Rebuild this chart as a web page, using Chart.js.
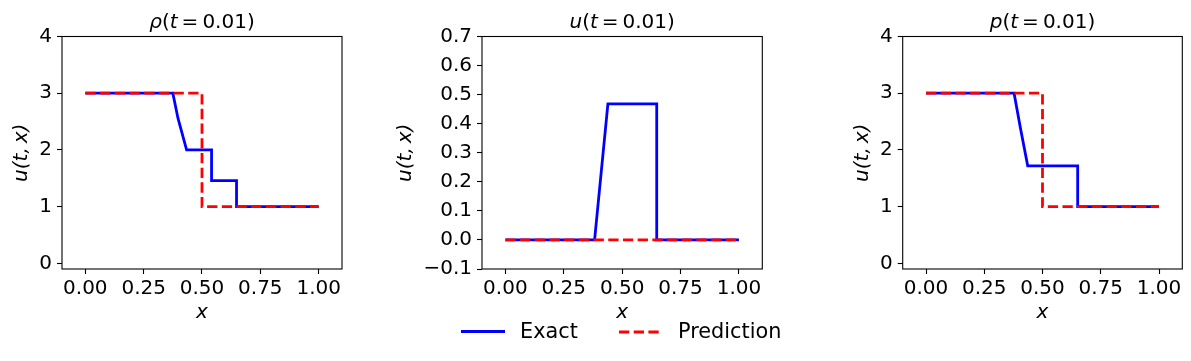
<!DOCTYPE html>
<html>
<head>
<meta charset="utf-8">
<script src="https://cdn.jsdelivr.net/npm/chart.js@4.4.0/dist/chart.umd.min.js"></script>
<style>
  body { margin: 0; background: #fff; width: 1191px; height: 361px; overflow: hidden; position: relative; font-family: 'DejaVu Sans'; }
  canvas.panel { position: absolute; top: 0; }
  .leg-text { position: absolute; top: 318.7px; font-size: 20.8px; line-height: 24px; color: #000; white-space: nowrap; }
</style>
</head>
<body>
<canvas id="rho" class="panel" width="360" height="361" style="left:0px"></canvas>
<canvas id="vel" class="panel" width="400" height="361" style="left:380px"></canvas>
<canvas id="pre" class="panel" width="391" height="361" style="left:800px"></canvas>

<!-- legend -->
<div style="position:absolute;left:461px;top:330.3px;width:44px;height:2.8px;background:#0000ff"></div>
<span class="leg-text" style="left:520px">Exact</span>
<svg style="position:absolute;left:619px;top:325.7px" width="42" height="12">
  <line x1="0" y1="6" x2="40" y2="6" stroke="#ff0000" stroke-width="2.8" stroke-dasharray="10.3 4.4"/>
</svg>
<span class="leg-text" style="left:678px">Prediction</span>

<script>
// tick values
const xTicks = [0, 0.25, 0.5, 0.75, 1];
const rhoTicks = [0, 1, 2, 3, 4];
const velTicks = [-0.1, 0, 0.1, 0.2, 0.3, 0.4, 0.5, 0.6, 0.7];
const preTicks = [0, 1, 2, 3, 4];

// density
const rhoExactX = [0, 0.375, 0.397, 0.434, 0.541, 0.541, 0.648, 0.648, 1];
const rhoExactY = [3, 3, 2.56, 2.0, 2.0, 1.46, 1.46, 1, 1];
const rhoPredX = [0, 0.5, 0.5, 1];
const rhoPredY = [3, 3, 1, 1];

// velocity
const velExactX = [0, 0.382, 0.439, 0.648, 0.648, 1];
const velExactY = [0, 0, 0.468, 0.468, 0, 0];
const velPredX = [0, 1];
const velPredY = [0, 0];

// pressure
const preExactX = [0, 0.378, 0.405, 0.4365, 0.651, 0.651, 1];
const preExactY = [3, 3, 2.39, 1.72, 1.72, 1, 1];
const prePredX = [0, 0.5, 0.5, 1];
const prePredY = [3, 3, 1, 1];

const tValue = '0.01';
const FONT = "'DejaVu Sans'";

const pts = (xs, ys) => xs.map((x, i) => ({ x: x, y: ys[i] }));

// title like  ρ(t = 0.01)  with italic symbols, plus the axes box
const framePlugin = {
  id: 'frame',
  afterDraw(chart) {
    const { ctx, chartArea: a } = chart;
    const sym = chart.options.plugins.frame.symbol;
    ctx.save();
    ctx.strokeStyle = '#000';
    ctx.lineWidth = 1.1;
    ctx.strokeRect(a.left, a.top, a.right - a.left, a.bottom - a.top);

    const size = 20;
    const parts = [
      { t: sym, it: true },
      { t: '(', it: false },
      { t: 't', it: true },
      { t: '\u2009=\u2009', it: false },
      { t: tValue + ')', it: false }
    ];
    let total = 0;
    parts.forEach(p => {
      ctx.font = (p.it ? 'italic ' : '') + size + 'px ' + FONT;
      p.w = ctx.measureText(p.t).width;
      total += p.w;
    });
    let x = (a.left + a.right) / 2 - total / 2;
    ctx.fillStyle = '#000';
    ctx.textBaseline = 'alphabetic';
    parts.forEach(p => {
      ctx.font = (p.it ? 'italic ' : '') + size + 'px ' + FONT;
      ctx.fillText(p.t, x, 28);
      x += p.w;
    });
    ctx.restore();
  }
};

function makePanel(id, opts) {
  const fixTicks = vals => scale => { scale.ticks = vals.map(v => ({ value: v })); };
  return new Chart(document.getElementById(id), {
    type: 'line',
    data: {
      datasets: [
        {
          label: 'Exact',
          data: pts(opts.exactX, opts.exactY),
          borderColor: '#0000ff',
          borderWidth: 2.8,
          pointRadius: 0,
          tension: 0,
          fill: false,
          order: 1
        },
        {
          label: 'Prediction',
          data: pts(opts.predX, opts.predY),
          borderColor: '#ff0000',
          borderWidth: 2.8,
          borderDash: [10.3, 4.4],
          pointRadius: 0,
          tension: 0,
          fill: false,
          order: 0
        }
      ]
    },
    options: {
      responsive: false,
      animation: false,
      devicePixelRatio: 1,
      layout: { padding: { top: 36.5, right: opts.padRight, left: 0, bottom: 0 } },
      plugins: {
        legend: { display: false },
        tooltip: { enabled: false },
        frame: { symbol: opts.symbol }
      },
      scales: {
        x: {
          type: 'linear',
          min: -0.1,
          max: 1.1,
          afterBuildTicks: fixTicks(xTicks),
          afterFit: s => { s.height = 92; },
          grid: { drawOnChartArea: false, drawTicks: true, tickLength: 5, tickWidth: 1.1, tickColor: '#000' },
          border: { display: false },
          ticks: {
            autoSkip: false,
            maxRotation: 0,
            padding: 3,
            color: '#000',
            font: { family: FONT, size: 20 },
            callback: v => v.toFixed(2)
          },
          title: {
            display: true,
            text: 'x',
            color: '#000',
            font: { family: FONT, size: 20, style: 'italic', lineHeight: 1.2 },
            padding: { top: 0, bottom: 36 }
          }
        },
        y: {
          type: 'linear',
          min: opts.yMin,
          max: opts.yMax,
          afterBuildTicks: fixTicks(opts.yTicks),
          afterFit: s => { s.width = opts.yWidth; },
          grid: { drawOnChartArea: false, drawTicks: true, tickLength: 5, tickWidth: 1.1, tickColor: '#000' },
          border: { display: false },
          ticks: {
            autoSkip: false,
            padding: 5,
            color: '#000',
            font: { family: FONT, size: 20 },
            callback: v => opts.yFmt(v)
          },
          title: {
            display: true,
            text: 'u(t,\u2009x)',
            color: '#000',
            font: { family: FONT, size: 20, style: 'italic', lineHeight: 1.2 },
            padding: { top: opts.titlePad, bottom: 0 }
          }
        }
      }
    },
    plugins: [framePlugin]
  });
}

const intFmt = v => String(Math.round(v));
const decFmt = v => v.toFixed(1).replace('-', '\u2212');

makePanel('rho', {
  symbol: 'ρ', exactX: rhoExactX, exactY: rhoExactY, predX: rhoPredX, predY: rhoPredY,
  yMin: -0.1, yMax: 4, yTicks: rhoTicks, yFmt: intFmt,
  yWidth: 62, padRight: 18, titlePad: 10
});
makePanel('vel', {
  symbol: 'u', exactX: velExactX, exactY: velExactY, predX: velPredX, predY: velPredY,
  yMin: -0.1, yMax: 0.7, yTicks: velTicks, yFmt: decFmt,
  yWidth: 102, padRight: 17.7, titlePad: 13.8
});
makePanel('pre', {
  symbol: 'p', exactX: preExactX, exactY: preExactY, predX: prePredX, predY: prePredY,
  yMin: -0.1, yMax: 4, yTicks: preTicks, yFmt: intFmt,
  yWidth: 102.7, padRight: 8.7, titlePad: 50.5
});
</script>
</body>
</html>
